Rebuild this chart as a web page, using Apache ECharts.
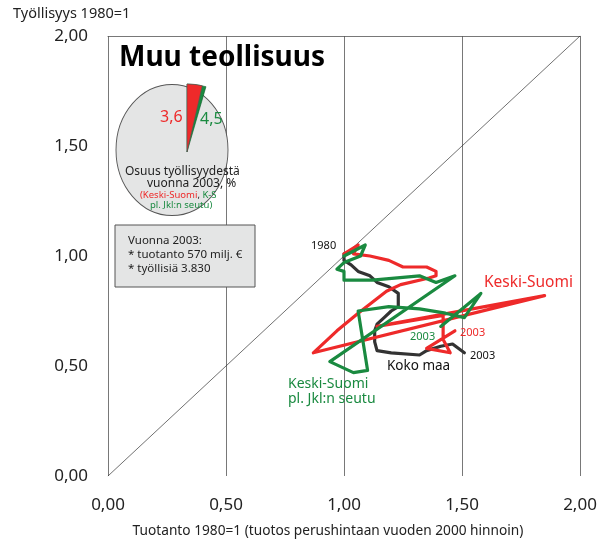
<!DOCTYPE html>
<html>
<head>
<meta charset="utf-8">
<script src="https://cdn.jsdelivr.net/npm/echarts@6/dist/echarts.min.js"></script>
<style>
  html, body { margin: 0; padding: 0; background: #fff; }
  #chart { width: 612px; height: 543px; }
</style>
</head>
<body>
<div id="chart"></div>
<script>
// Keski-Suomi (red), 1980 -> 2003
const redX = [1.00, 1.06, 1.04, 1.11, 1.19, 1.25, 1.35, 1.39, 1.39, 1.36, 1.24, 1.18, 1.12, 1.06, 0.97, 0.87, 1.85, 1.14, 1.42, 1.42, 1.45, 1.35, 1.47];
const redY = [1.01, 1.05, 1.01, 1.00, 0.98, 0.95, 0.95, 0.93, 0.91, 0.90, 0.87, 0.84, 0.79, 0.74, 0.66, 0.56, 0.82, 0.68, 0.73, 0.62, 0.56, 0.58, 0.66];

// Keski-Suomi pl. Jkl:n seutu (green)
const greenX = [1.00, 1.09, 1.07, 1.00, 0.97, 1.00, 1.00, 1.12, 1.32, 1.39, 1.47, 0.94, 1.04, 1.10, 1.06, 1.19, 1.32, 1.43, 1.51, 1.58, 1.41];
const greenY = [1.00, 1.05, 1.00, 0.97, 0.94, 0.93, 0.89, 0.89, 0.91, 0.88, 0.91, 0.52, 0.47, 0.48, 0.75, 0.77, 0.76, 0.74, 0.72, 0.83, 0.68];

// Koko maa (black)
const blackX = [1.00, 1.00, 1.03, 1.06, 1.11, 1.14, 1.19, 1.23, 1.23, 1.23, 1.20, 1.17, 1.14, 1.13, 1.13, 1.14, 1.20, 1.32, 1.35, 1.41, 1.46, 1.51];
const blackY = [1.01, 0.98, 0.96, 0.93, 0.91, 0.88, 0.86, 0.83, 0.80, 0.77, 0.75, 0.72, 0.69, 0.66, 0.61, 0.57, 0.56, 0.55, 0.57, 0.59, 0.60, 0.56];

// diagonal y = x
const diagX = [0, 2];
const diagY = [0, 2];

// employment share 2003, % (K-S pl. Jkl:n seutu behind, Keski-Suomi on top)
const shareValues = [4.5, 3.6];
const shareColors = ['#1a8a40', '#ee2a2a'];
const shareBorders = ['#0c5a26', '#555'];

const RED = '#ee2a2a';
const GREEN = '#1a8a40';
const BLACK = '#333333';
const FONT = '"Noto Sans", sans-serif';

const zip = (xs, ys) => xs.map((x, i) => [x, ys[i]]);
const fmt = (v) => v.toFixed(2).replace('.', ',');

const chart = echarts.init(document.getElementById('chart'));

const lineSeries = (name, xs, ys, color, width, z) => ({
  name: name,
  type: 'line',
  data: zip(xs, ys),
  symbol: 'none',
  smooth: false,
  z: z,
  lineStyle: { color: color, width: width, join: 'round', cap: 'round' },
  silent: true
});

const txt = (x, y, text, color, size, extra) => ({
  type: 'text',
  left: x,
  top: y,
  z: 100,
  style: Object.assign({ text: text, fill: color, font: size + 'px ' + FONT }, extra || {})
});

// share wedges, measured from 12 o'clock clockwise (100 % = full circle)
const renderWedge = (params, api) => {
  const i = params.dataIndex;
  const v = api.value(0);
  const start = -Math.PI / 2;
  return {
    type: 'sector',
    z2: i + 1,
    shape: {
      cx: 187, cy: 152, r: 68, r0: 0,
      startAngle: start,
      endAngle: start + (v / 100) * Math.PI * 2,
      clockwise: true
    },
    style: { fill: shareColors[i], stroke: shareBorders[i], lineWidth: 0.6, lineJoin: 'round' }
  };
};

chart.setOption({
  animation: false,
  backgroundColor: '#fff',
  title: {
    text: 'Muu teollisuus',
    left: 114,
    top: 39,
    textStyle: { fontFamily: FONT, fontSize: 28, fontWeight: 'bold', color: '#000' },
    z: 50
  },
  grid: { left: 108, right: 32, top: 36, bottom: 65 },
  xAxis: [
    {
      type: 'value',
      min: 0, max: 2, interval: 0.5,
      axisLine: { show: false },
      axisTick: { show: false },
      splitLine: { show: true, lineStyle: { color: '#555', width: 0.8 } },
      axisLabel: { formatter: fmt, fontSize: 17, color: '#222', fontFamily: FONT, margin: 21 },
      name: 'Tuotanto 1980=1 (tuotos perushintaan vuoden 2000 hinnoin)',
      nameLocation: 'middle',
      nameGap: 48,
      nameTextStyle: { fontSize: 13.7, color: '#222', fontFamily: FONT, padding: [0, 32, 0, 0] }
    },
    {
      type: 'value',
      position: 'top',
      min: 0, max: 2,
      axisLine: { show: true, lineStyle: { color: '#555', width: 0.8 } },
      axisTick: { show: false },
      axisLabel: { show: false },
      splitLine: { show: false }
    }
  ],
  yAxis: {
    type: 'value',
    min: 0, max: 2, interval: 0.5,
    axisLine: { show: false },
    axisTick: { show: false },
    splitLine: { show: false },
    axisLabel: { formatter: fmt, fontSize: 17, color: '#222', fontFamily: FONT, margin: 20 }
  },
  series: [
    lineSeries('diag', diagX, diagY, '#333', 0.7, 1),
    lineSeries('Koko maa', blackX, blackY, BLACK, 3.2, 3),
    lineSeries('Keski-Suomi', redX, redY, RED, 3.2, 4),
    lineSeries('Keski-Suomi pl. Jkl:n seutu', greenX, greenY, GREEN, 3.2, 5),
    {
      type: 'custom',
      coordinateSystem: 'none',
      silent: true,
      z: 60,
      renderItem: renderWedge,
      data: shareValues.map((v) => [v])
    }
  ],
  graphic: [
    {
      type: 'circle',
      x: 172, y: 150,
      scaleY: 1.17,
      shape: { cx: 0, cy: 0, r: 56 },
      z: 40,
      style: { fill: '#e4e5e5', stroke: '#555', lineWidth: 0.9 }
    },
    {
      type: 'rect',
      shape: { x: 115, y: 225, width: 140, height: 62 },
      z: 40,
      style: { fill: '#e4e5e5', stroke: '#555', lineWidth: 1 }
    },
    txt(160, 109, '3,6', RED, 16),
    txt(200, 111, '4,5', GREEN, 16),
    txt(125, 166, 'Osuus työllisyydestä', '#222', 12),
    txt(147, 178, 'vuonna 2003, %', '#222', 12),
    {
      type: 'text', left: 140, top: 190, z: 100,
      style: {
        text: '{r|(Keski-Suomi}{k|, }{g|K-S}',
        rich: {
          r: { fill: RED, font: '9.5px ' + FONT },
          k: { fill: '#222', font: '9.5px ' + FONT },
          g: { fill: GREEN, font: '9.5px ' + FONT }
        }
      }
    },
    txt(150, 200, 'pl. Jkl:n seutu)', GREEN, 9.5),
    txt(128, 235, 'Vuonna 2003:', '#222', 11.5),
    txt(128, 249, '* tuotanto 570 milj. €', '#222', 11.5),
    txt(128, 263, '* työllisiä 3.830', '#222', 11.5),
    txt(13, 6, 'Työllisyys 1980=1', '#222', 14.5),
    txt(311, 240, '1980', '#111', 11),
    txt(484, 275, 'Keski-Suomi', RED, 15.5),
    txt(460, 327, '2003', RED, 11),
    txt(410, 331, '2003', GREEN, 11),
    txt(470, 350, '2003', '#111', 11),
    txt(387, 359, 'Koko maa', '#111', 13.5),
    txt(288, 377, 'Keski-Suomi', GREEN, 14),
    txt(288, 392, 'pl. Jkl:n seutu', GREEN, 14)
  ]
});
</script>
</body>
</html>
